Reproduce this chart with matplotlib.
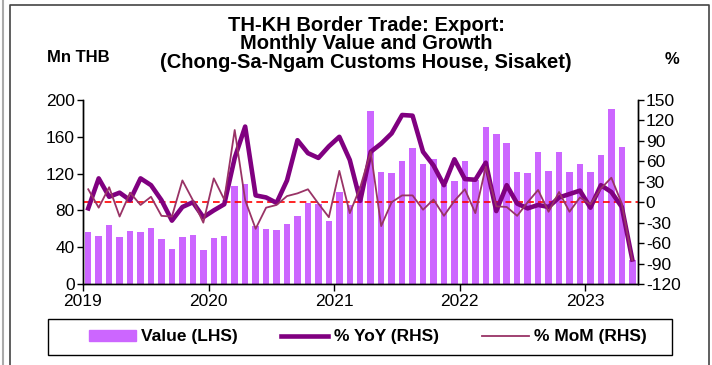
import numpy as np
import matplotlib
matplotlib.use("Agg")
from matplotlib import pyplot as plt
from matplotlib.lines import Line2D
from matplotlib.patches import Patch, Rectangle

plt.rcParams["font.family"] = ["Liberation Sans", "DejaVu Sans"]
plt.rcParams["axes.unicode_minus"] = False

# Monthly export value (Mn THB), Jan 2019 - May 2023
value = [56, 52, 64, 51, 58, 56, 61, 49, 38, 51, 53, 37,
         50, 52, 107, 109, 63, 60, 59, 65, 74, 88, 87, 68,
         100, 86, 106, 188, 122, 121, 134, 148, 130, 136, 108, 112,
         134, 113, 171, 163, 153, 122, 121, 144, 123, 143, 122, 130,
         122, 140, 190, 149, 26]
# growth, % year on year
yoy = [-9, 35, 8, 14, 3, 35, 25, 3, -27, -7, 0, -22,
       -12, -3, 65, 111, 10, 7, -1, 32, 91, 72, 65, 82,
       96, 62, 2, 74, 86, 101, 128, 127, 74, 54, 25, 63,
       34, 33, 58, -13, 25, -2, -9, -4, -7, 7, 12, 17,
       -8, 25, 15, -7, -84]
# growth, % month on month
mom = [19, -8, 22, -21, 14, -4, 8, -20, -21, 32, 3, -30,
       35, 4, 106, 3, -39, -8, -4, 9, 13, 19, -2, -22,
       46, -16, 22, 74, -35, 0, 10, 10, -11, 4, -20, 2,
       19, -16, 52, -6, -7, -20, 0, 18, -14, 15, -14, 7,
       -3, 20, 36, -2, -85]
years = ["2019", "2020", "2021", "2022", "2023"]

W, H = 712, 365
fig = plt.figure(figsize=(W / 100, H / 100), dpi=100)
ax = fig.add_axes([83 / W, 81 / H, (637.5 - 83) / W, 184 / H])
ax2 = ax.twinx()

x = np.arange(len(value)) + 0.5
ax.bar(x, value, width=0.62, color="#CC66FF", zorder=2)
ax.set_xlim(0, len(value))
ax.set_ylim(0, 200)
ax.set_yticks(np.arange(0, 201, 40))
ax.set_xticks(np.arange(0, len(value), 12))
ax.set_xticklabels(years)

ax2.axhline(0, color="red", lw=1.2, ls=(0, (4, 2.5)), zorder=1)
ax2.plot(x, yoy, color="#800080", lw=3.3, zorder=3)
ax2.plot(x, mom, color="#993366", lw=1.3, zorder=4)
ax2.set_ylim(-120, 150)
ax2.set_yticks(np.arange(-120, 151, 30))

for a in (ax, ax2):
    a.spines["top"].set_visible(False)
    a.tick_params(direction="out", length=4, width=1, labelsize=12.5, pad=2)
    for s in a.spines.values():
        s.set_linewidth(1)
ax.tick_params(axis="x", length=5)

fig.text(366 / W, 1 - 16 / H,
         "TH-KH Border Trade: Export:\nMonthly Value and Growth\n(Chong-Sa-Ngam Customs House, Sisaket)",
         ha="center", va="top", fontsize=14.5, fontweight="bold", linespacing=0.95)
fig.text(47 / W, 1 - 58 / H, "Mn THB", ha="left", va="center",
         fontsize=12, fontweight="bold")
fig.text(672 / W, 1 - 60 / H, "%", ha="center", va="center",
         fontsize=12, fontweight="bold")

handles = [Patch(color="#CC66FF"),
           Line2D([], [], color="#800080", lw=3.3),
           Line2D([], [], color="#993366", lw=1.3)]
fig.legend(handles, ["Value (LHS)", "% YoY (RHS)", "% MoM (RHS)"],
           loc="center", bbox_to_anchor=(368 / W, 1 - 337 / H), ncol=3,
           frameon=False, handlelength=2.7, handleheight=0.6,
           handletextpad=0.3, columnspacing=2.5,
           prop={"weight": "bold", "size": 12.5})
fig.add_artist(Rectangle((48 / W, 1 - 355 / H), 624 / W, 36 / H,
                         transform=fig.transFigure, fill=False,
                         ec="black", lw=1))

# outer chart frame
fig.add_artist(Line2D([10 / W, 10 / W, 709 / W, 709 / W],
                      [0, 1 - 5 / H, 1 - 5 / H, 0],
                      transform=fig.transFigure, color="#444444", lw=1.2))
fig.add_artist(Line2D([3 / W, 3 / W], [0, 1], transform=fig.transFigure,
                      color="#aaaaaa", lw=1.5))

fig.savefig("out.png", dpi=100)
